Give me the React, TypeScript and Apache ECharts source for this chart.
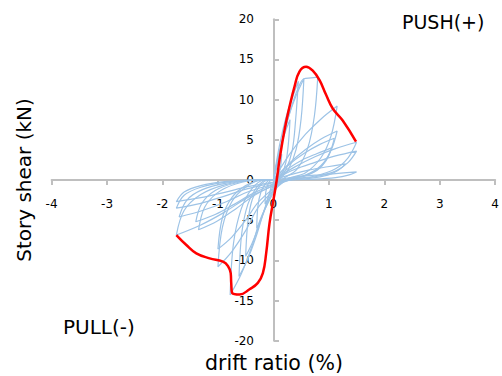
import React, { useEffect, useRef } from "react";
import * as echarts from "echarts";

// drift ratio (%) , story shear (kN)
const xTicks = [-4, -3, -2, -1, 0, 1, 2, 3, 4];
const yTicks = [-20, -15, -10, -5, 0, 5, 10, 15, 20];

const cycle1 = [[0,0],[0.04,1.1],[0.08,2.0],[0.11,2.7],[0.15,3.2],[0.135,1.9],[0.11,1.0],[0.075,0.3],[0.03,0],[-0.04,-0.9],[-0.075,-1.75],[-0.11,-2.45],[-0.15,-3],[-0.14,-1.65],[-0.11,-0.75],[-0.075,-0.25],[-0.03,0],[0,0]];
const cycle2 = [[0,0],[0.075,2.6],[0.15,4.6],[0.225,6.2],[0.3,7.5],[0.27,4.5],[0.225,2.2],[0.15,0.7],[0.06,0],[-0.075,-1.8],[-0.15,-3.5],[-0.225,-4.9],[-0.3,-6],[-0.28,-3.3],[-0.225,-1.5],[-0.15,-0.5],[-0.06,0],[0,0]];
const cycle3 = [[0,0],[0.11,4.3],[0.22,7.6],[0.34,10.2],[0.45,12.3],[0.4,7.4],[0.34,3.7],[0.22,1.2],[0.09,0],[-0.12,-2.9],[-0.25,-5.5],[-0.38,-7.8],[-0.5,-9.5],[-0.46,-5.2],[-0.38,-2.4],[-0.25,-0.8],[-0.1,0],[0,0]];
const cycle4 = [[0,0],[0.14,4.4],[0.27,7.8],[0.41,10.5],[0.55,12.6],[0.5,7.6],[0.41,3.8],[0.27,1.3],[0.11,0],[-0.15,-3.6],[-0.31,-7],[-0.46,-9.8],[-0.62,-12],[-0.57,-6.6],[-0.46,-3],[-0.31,-1],[-0.12,0],[0,0]];
const cycle5 = [[0,0],[0.15,4.5],[0.3,8.5],[0.45,11.5],[0.55,12.6],[0.68,12.7],[0.8,12.8],[0.74,8],[0.62,4],[0.42,1.3],[0.16,0],[-0.2,-4.3],[-0.39,-8.3],[-0.58,-11.7],[-0.78,-14.3],[-0.72,-7.9],[-0.58,-3.6],[-0.39,-1.1],[-0.16,0],[0,0]];
const cycle6 = [[0,0],[0.29,3.2],[0.58,5.7],[0.86,7.6],[1.15,9.2],[1.04,5.5],[0.86,2.8],[0.58,0.9],[0.23,0],[-0.25,-3.2],[-0.5,-6.3],[-0.75,-8.9],[-1.0,-10.8],[-0.92,-5.9],[-0.75,-2.7],[-0.5,-0.9],[-0.2,0],[0,0]];
const cycle7 = [[0,0],[0.29,2.1],[0.58,3.8],[0.86,5.1],[1.15,6.1],[1.04,3.7],[0.86,1.8],[0.58,0.6],[0.23,0],[-0.25,-2.6],[-0.5,-5],[-0.75,-7.1],[-1.0,-8.6],[-0.92,-4.7],[-0.75,-2.2],[-0.5,-0.7],[-0.2,0],[0,0]];
const cycle8 = [[0,0],[0.28,1.9],[0.55,3.3],[0.83,4.4],[1.1,5.2],[1.0,3.1],[0.83,1.5],[0.55,0.5],[0.22,0],[-0.34,-1.9],[-0.68,-3.6],[-1.01,-5.1],[-1.35,-6.2],[-1.24,-3.4],[-1.01,-1.6],[-0.68,-0.5],[-0.27,0],[0,0]];
const cycle9 = [[0,0],[0.26,1.4],[0.52,2.5],[0.79,3.3],[1.05,4.0],[0.95,2.4],[0.79,1.2],[0.52,0.4],[0.21,0],[-0.35,-1.6],[-0.7,-3],[-1.05,-4.3],[-1.4,-5.2],[-1.29,-2.9],[-1.05,-1.3],[-0.7,-0.4],[-0.28,0],[0,0]];
const cycle10 = [[0,0],[0.38,1.6],[0.75,2.9],[1.12,3.9],[1.5,4.7],[1.35,2.8],[1.12,1.4],[0.75,0.5],[0.3,0],[-0.44,-2.1],[-0.88,-4.0],[-1.31,-5.6],[-1.75,-6.85],[-1.61,-3.8],[-1.31,-1.8],[-0.88,-0.6],[-0.35,0],[0,0]];
const cycle11 = [[0,0],[0.38,1.3],[0.75,2.2],[1.12,3.0],[1.5,3.6],[1.35,2.2],[1.12,1.1],[0.75,0.4],[0.3,0],[-0.43,-1.4],[-0.85,-2.7],[-1.28,-3.8],[-1.7,-4.6],[-1.56,-2.5],[-1.28,-1.2],[-0.85,-0.4],[-0.34,0],[0,0]];
const cycle12 = [[0,0],[0.38,0.35],[0.75,0.6],[1.12,0.8],[1.5,1.0],[1.35,0.6],[1.12,0.3],[0.75,0.1],[0.3,0],[-0.44,-1.05],[-0.88,-2.0],[-1.31,-2.9],[-1.75,-3.5],[-1.61,-1.9],[-1.31,-0.9],[-0.88,-0.3],[-0.35,0],[0,0]];
const cycle13 = [[0,0],[0.33,0.7],[0.65,1.25],[0.98,1.65],[1.3,2.0],[1.17,1.2],[0.98,0.6],[0.65,0.2],[0.26,0],[-0.44,-0.8],[-0.88,-1.55],[-1.31,-2.2],[-1.75,-2.7],[-1.61,-1.5],[-1.31,-0.7],[-0.88,-0.2],[-0.35,0],[0,0]];

const cycles = [cycle1, cycle2, cycle3, cycle4, cycle5, cycle6, cycle7, cycle8, cycle9, cycle10, cycle11, cycle12, cycle13];

const envelope = [[-1.75,-6.85],[-1.57,-8.09],[-1.39,-9.13],[-1.15,-9.75],[-0.91,-10.17],[-0.82,-10.7],[-0.77,-11.6],[-0.76,-12.9],[-0.74,-14.1],[-0.61,-14.25],[-0.43,-13.6],[-0.28,-12.8],[-0.19,-11.6],[-0.13,-9.1],[-0.07,-5.4],[0,-2.5],[0.06,0],[0.11,2.5],[0.2,6.2],[0.29,9.1],[0.38,11.6],[0.47,13.5],[0.59,14.1],[0.71,13.6],[0.83,12.45],[0.95,10.6],[1.07,8.9],[1.25,7.4],[1.49,4.77]];

const xTitle = "drift ratio (%)";
const yTitle = "Story shear (kN)";
const pushText = "PUSH(+)";
const pullText = "PULL(-)";

export default function App() {
  const ref = useRef<HTMLDivElement>(null);
  useEffect(() => {
    if (!ref.current) return;
    const chart = echarts.init(ref.current, null, { renderer: "svg" });
    const axisColor = "#BFBFBF";
    const font = "DejaVu Sans";
    const gridLeft = 51.6, gridRight = 5.6, gridTop = 19.3, gridBottom = 35.3;
    const plotW = 502 - gridLeft - gridRight;
    const plotH = 376 - gridTop - gridBottom;
    chart.setOption({
      animation: false,
      backgroundColor: "#ffffff",
      grid: { left: gridLeft, right: gridRight, top: gridTop, bottom: gridBottom, containLabel: false },
      xAxis: {
        type: "value",
        position: "bottom",
        offset: -plotH / 2,
        min: xTicks[0],
        max: xTicks[xTicks.length - 1],
        interval: 1,
        axisLine: { onZero: false, lineStyle: { color: axisColor, width: 2 } },
        axisTick: { show: true, inside: false, length: 5, lineStyle: { color: axisColor, width: 2 } },
        axisLabel: { margin: 18, color: "#000", fontFamily: font, fontSize: 12 },
        splitLine: { show: false },
      },
      yAxis: {
        type: "value",
        position: "left",
        offset: -plotW / 2,
        min: yTicks[0],
        max: yTicks[yTicks.length - 1],
        interval: 5,
        axisLine: { onZero: false, lineStyle: { color: axisColor, width: 2 } },
        axisTick: { show: true, inside: true, length: 5, lineStyle: { color: axisColor, width: 2 } },
        axisLabel: { margin: 20, color: "#000", fontFamily: font, fontSize: 12 },
        splitLine: { show: false },
      },
      series: [
        ...cycles.map((c) => ({
          type: "line",
          data: c,
          showSymbol: false,
          smooth: 0.35,
          lineStyle: { color: "#9DC3E6", width: 1.2 },
          z: 2,
        })),
        {
          type: "line",
          data: envelope,
          showSymbol: false,
          smooth: 0.45,
          lineStyle: { color: "#FF0000", width: 2.5 },
          z: 5,
        },
      ],
      graphic: [
        { type: "text", x: 274, y: 363, style: { text: xTitle, fontFamily: font, fontSize: 20.5, fill: "#000", textAlign: "center", textVerticalAlign: "middle" } },
        { type: "text", x: 24, y: 180, rotation: Math.PI / 2, style: { text: yTitle, fontFamily: font, fontSize: 20, fill: "#000", textAlign: "center", textVerticalAlign: "middle" } },
        { type: "text", x: 402, y: 22, style: { text: pushText, fontFamily: font, fontSize: 19, fill: "#000", textAlign: "left", textVerticalAlign: "middle" } },
        { type: "text", x: 63, y: 327, style: { text: pullText, fontFamily: font, fontSize: 20, fill: "#000", textAlign: "left", textVerticalAlign: "middle" } },
      ],
    });
    return () => chart.dispose();
  }, []);
  return <div ref={ref} style={{ position: "fixed", left: 0, top: 0, width: 502, height: 376 }} />;
}
